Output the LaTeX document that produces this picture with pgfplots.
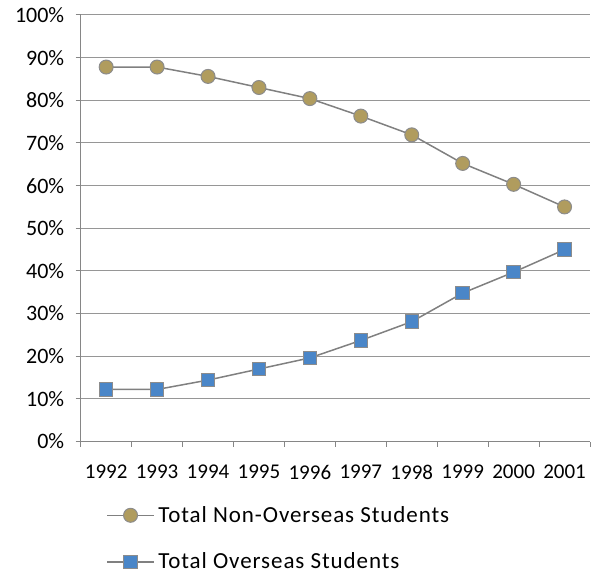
\documentclass[border=0pt]{standalone}
\usepackage{fontspec}
\setmainfont{Carlito}
\newfontfamily\legfont{Carlito}[LetterSpace=4]
\usepackage{pgfplots}
\pgfplotsset{compat=1.18}

\definecolor{axisgray}{RGB}{134,134,134}
\definecolor{gridgray}{RGB}{150,150,150}
\definecolor{linegray}{RGB}{128,128,128}
\definecolor{markgray}{RGB}{140,140,140}
\definecolor{nonblue}{RGB}{176,156,94}
\definecolor{osblue}{RGB}{74,134,200}

\begin{document}
\begin{tikzpicture}
\begin{axis}[
    scale only axis,
    width=509.3bp, height=426.5bp,
    xmin=-0.5, xmax=9.5,
    ymin=0, ymax=100,
    axis x line*=bottom, axis y line*=left,
    axis line style={draw=axisgray, line width=1bp},
    xtick={0,...,9},
    xticklabels={1992,1993,1994,1995,1996,1997,1998,1999,2000,2001},
    minor xtick={-0.5,0.5,...,9.5},
    major x tick style={draw=none},
    ytick={0,10,...,100},
    yticklabels={0\%,10\%,20\%,30\%,40\%,50\%,60\%,70\%,80\%,90\%,100\%},
    tick align=outside,
    major tick length=5bp, minor tick length=5bp,
    tick style={draw=axisgray, line width=1bp},
    ymajorgrids,
    grid style={draw=gridgray, line width=1bp},
    xticklabel style={font=\fontsize{21bp}{25bp}\selectfont, yshift=-15bp},
    yticklabel style={font=\fontsize{22bp}{26bp}\selectfont, xshift=-8bp},
    legend style={draw=none, fill=none,
        at={(axis description cs:0.044,-0.2275)}, anchor=west,
        row sep=29bp,
        nodes={inner xsep=3.5bp, inner ysep=0pt},
        font=\legfont\fontsize{23bp}{27bp}\selectfont},
    legend cell align=left,
    legend image code/.code={
        \draw[mark repeat=2,mark phase=2] plot coordinates {(0bp,0bp) (23.5bp,0bp) (47bp,0bp)};
    },
]
\addplot[color=linegray, line width=1.5bp, mark=*, mark size=7bp,
    mark options={fill=nonblue, draw=markgray, line width=1bp}]
    coordinates {(0,87.8) (1,87.8) (2,85.6) (3,83.0) (4,80.4) (5,76.3) (6,71.9) (7,65.2) (8,60.3) (9,55.0)};
\addlegendentry{Total Non-Overseas Students}
\addplot[color=linegray, line width=1.5bp, mark=square*, mark size=6.7bp,
    mark options={fill=osblue, draw=markgray, line width=1bp}]
    coordinates {(0,12.2) (1,12.2) (2,14.4) (3,17.0) (4,19.6) (5,23.7) (6,28.1) (7,34.8) (8,39.7) (9,45.0)};
\addlegendentry{Total Overseas Students}
\end{axis}
\pgfresetboundingbox
\path[use as bounding box] (-80.7bp,-132.5bp) rectangle (511.3bp,441.5bp);
\end{tikzpicture}
\end{document}
